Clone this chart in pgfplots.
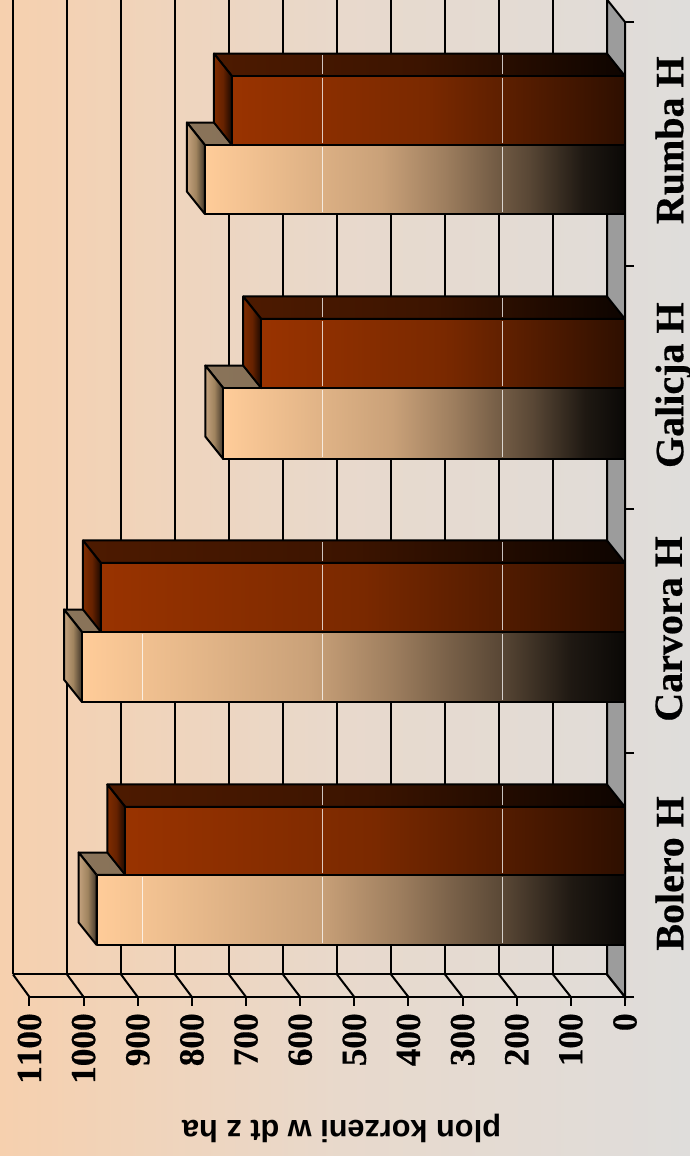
\documentclass[border=0pt]{standalone}
\usepackage{fontspec}
\setmainfont[Kerning=Off,BoldFeatures={FakeBold=0.5}]{Liberation Serif}
\newfontfamily\arialfont{Liberation Sans}
\usepackage{pgfplots}
\pgfplotsset{compat=1.18}

% px -> value: (625-px)/0.5414, px -> cat: (997-py)/243.75
\def\dx{33.25}
\def\dy{0.0923}
\def\lw{1pt}

% value, y0, y1, cap shading, top shading
\newcommand{\barbox}[5]{%
  \pgfmathsetmacro\vb{#1+\dx}%
  \pgfmathsetmacro\yab{#2+\dy}%
  \pgfmathsetmacro\ybb{#3+\dy}%
  \pgfmathsetmacro\zb{\dx}%
  \addplot[forget plot,no markers,draw=black,line width=\lw,line join=round,#5]
    coordinates {(0,#3) (\zb,\ybb) (\vb,\ybb) (#1,#3)} -- cycle;
  \addplot[forget plot,no markers,draw=black,line width=\lw,line join=round,#4]
    coordinates {(#1,#2) (\vb,\yab) (\vb,\ybb) (#1,#3)} -- cycle;
}
\newcommand{\frontface}[4]{%
  \addplot[forget plot,no markers,draw=black,line width=\lw,line join=round,#4]
    coordinates {(0,#2) (#1,#2) (#1,#3) (0,#3)} -- cycle;
}
\newcommand{\glitch}[3]{%
  \addplot[forget plot,no markers,white,opacity=.75,line width=.45pt]
    coordinates {(#1,#2) (#1,#3)};
}

\newcommand{\lightbar}[3]{%
  \barbox{#1}{#2}{#3}{left color=capla,right color=caplr,middle color=caplm}{left color=toplightl,right color=toplightr}%
  \frontface{#1}{#2}{#3}{shade,shading=lightface}%
  \glitch{559.6}{#2+0.008}{#3-0.008}%
  \glitch{227}{#2+0.008}{#3-0.008}%
}
\newcommand{\darkbar}[3]{%
  \barbox{#1}{#2}{#3}{left color=capdl,right color=capdr,middle color=capdm}{left color=topdl,right color=topdr,middle color=topdm}%
  \frontface{#1}{#2}{#3}{left color=darkl,right color=darkr,middle color=darkm}%
  \glitch{559.6}{#2+0.008}{#3-0.008}%
  \glitch{227}{#2+0.008}{#3-0.008}%
  \pgfmathsetmacro\ytop{#3+\dy-0.006}%
  \glitch{559.6}{#3+0.008}{\ytop}%
  \glitch{227}{#3+0.008}{\ytop}%
}

\pgfdeclarehorizontalshading{lightface}{100bp}{
  rgb(0bp)=(1,.8,.6); rgb(25bp)=(1,.8,.6);
  rgb(46bp)=(.79,.632,.474);
  rgb(53.5bp)=(.62,.496,.372);
  rgb(58.5bp)=(.48,.384,.288);
  rgb(63.5bp)=(.35,.28,.21);
  rgb(70bp)=(.12,.096,.072);
  rgb(75bp)=(.04,.032,.024);
  rgb(100bp)=(.04,.032,.024)}

\definecolor{bgl}{HTML}{F6D0AE}
\definecolor{bgm}{HTML}{E8D9CC}
\definecolor{bgr}{HTML}{DFDDDB}
\definecolor{darkl}{HTML}{993300}
\definecolor{darkm}{HTML}{7A2900}
\definecolor{darkr}{HTML}{2E0F00}
\definecolor{capla}{HTML}{C4A27E}
\definecolor{caplm}{HTML}{A0845F}
\definecolor{caplr}{HTML}{403529}
\definecolor{capdl}{HTML}{7F2C00}
\definecolor{capdm}{HTML}{662200}
\definecolor{capdr}{HTML}{1A0800}
\definecolor{toplightl}{HTML}{8A745A}
\definecolor{toplightr}{HTML}{6F5D48}
\definecolor{topdl}{HTML}{4D1A00}
\definecolor{topdm}{HTML}{3C1400}
\definecolor{topdr}{HTML}{0D0400}
\definecolor{floorgrey}{HTML}{9C9C9C}

\begin{document}
\begin{tikzpicture}[x=1pt,y=1pt]
\path[use as bounding box] (0,0) rectangle (345,578);
\shade[left color=bgl,right color=bgr,middle color=bgm] (0,0) rectangle (345,578);
\begin{axis}[
  at={(14.75pt,79.5pt)},
  anchor=south west,
  scale only axis,
  width=297.75pt,
  height=487.5pt,
  x dir=reverse,
  xmin=0, xmax=1100,
  ymin=0, ymax=4,
  clip=false,
  axis x line*=bottom,
  axis y line*=right,
  axis line style={line width=\lw,black,-},
  tick align=outside,
  major tick length=4.5pt,
  every tick/.style={black,line width=\lw},
  xtick={0,100,...,1100},
  ytick={0,1,2,3,4},
  yticklabels={},
  xticklabel shift=3.5pt,
  xticklabel style={
    rotate=90,anchor=east,inner sep=0pt,
    font=\fontsize{17.6}{20}\selectfont\bfseries,
    /pgf/number format/assume math mode=true,
    /pgf/number format/1000 sep={}
  },
  extra y ticks={0.507,1.51,2.51,3.515},
  extra y tick labels={Bolero H,Carvora H,Galicja H,Rumba H},
  extra y tick style={
    major tick length=0pt,
    yticklabel style={rotate=90,anchor=north,inner sep=0pt,font=\fontsize{20}{22}\selectfont\bfseries},
    yticklabel shift=15pt
  },
  xlabel={plon korzeni w dt z ha},
  xlabel style={
    at={(axis description cs:0.524,-0.135)},
    anchor=center,rotate=180,inner sep=0pt,
    font=\fontsize{15.35}{18}\selectfont\arialfont\bfseries
  },
]
% floor strip
\addplot[forget plot,no markers,draw=black,line width=\lw,fill=floorgrey]
  coordinates {(0,0) (33.25,0.0923) (33.25,4.0923) (0,4)} -- cycle;
% back wall grid
\pgfplotsinvokeforeach{33.25,133,232.7,332.5,432,532,631.7,731.4,831,931,1030.7,1130.4}{
  \addplot[forget plot,no markers,black,line width=\lw] coordinates {(#1,0.0923) (#1,4.0923)};
}
% side wall floor lines
\pgfplotsinvokeforeach{0,100,200,300,400,500,600,700,800,900,1000,1100}{
  \pgfmathsetmacro\tb{#1*0.9974+33.25}
  \addplot[forget plot,no markers,black,line width=\lw] coordinates {(#1,0) (\tb,0.0923)};
}
\addplot[forget plot,no markers,black,line width=\lw] coordinates {(33.25,0.0923) (1130.4,0.0923)};
\addplot[forget plot,no markers,black!70,line width=\lw] coordinates {(33.25,4.0923) (1130.4,4.0923)};

% light series
\lightbar{976}{0.2133}{0.5005}
\lightbar{1003}{1.2100}{1.4974}
\lightbar{742}{2.2070}{2.4980}
\lightbar{776}{3.2120}{3.4950}
\glitch{892}{0.221}{0.492}
\glitch{892}{1.218}{1.489}
% dark series
\darkbar{923}{0.5005}{0.7795}
\darkbar{968}{1.4974}{1.7805}
\darkbar{672}{2.4980}{2.7815}
\darkbar{726}{3.4950}{3.7780}
\end{axis}
\end{tikzpicture}
\end{document}
